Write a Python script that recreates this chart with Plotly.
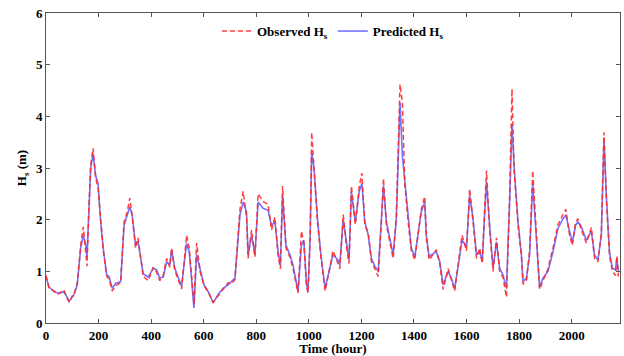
import plotly.graph_objects as go

hours = [0, 11, 30, 45, 56, 68, 80, 88, 100, 106, 119, 132, 142, 151, 156, 163, 170, 179, 189, 198,
         208, 218, 231, 240, 252, 265, 284, 297, 309, 319, 328, 341, 350, 360, 370, 389, 408, 421, 433, 446,
         459, 471, 478, 490, 503, 516, 525, 535, 545, 554, 563, 573, 586, 601, 617, 636, 655, 674, 693, 706,
         719, 725, 738, 750, 763, 769, 782, 795, 807, 826, 845, 858, 871, 883, 892, 900, 913, 928, 940, 959,
         972, 981, 991, 997, 1005, 1011, 1020, 1033, 1046, 1062, 1084, 1092, 1111, 1118, 1131, 1143, 1153, 1162, 1177, 1192,
         1202, 1213, 1226, 1238, 1251, 1264, 1276, 1284, 1295, 1308, 1321, 1333, 1341, 1347, 1356, 1365, 1378, 1390, 1403, 1416,
         1428, 1441, 1447, 1458, 1466, 1485, 1498, 1511, 1530, 1542, 1555, 1571, 1583, 1600, 1612, 1625, 1638, 1650, 1660, 1668,
         1676, 1688, 1701, 1714, 1726, 1739, 1752, 1764, 1773, 1781, 1796, 1809, 1815, 1828, 1840, 1852, 1866, 1878, 1891, 1910,
         1929, 1948, 1967, 1978, 1992, 2003, 2015, 2024, 2037, 2056, 2075, 2087, 2100, 2113, 2123, 2132, 2144, 2155, 2167, 2172,
         2178]

predicted = [0.90, 0.70, 0.61, 0.58, 0.58, 0.61, 0.50, 0.42, 0.50, 0.55, 0.74, 1.45, 1.70, 1.51, 1.28, 2.09, 2.99, 3.28, 2.85, 2.70,
             1.96, 1.44, 0.93, 0.90, 0.67, 0.77, 0.80, 1.89, 2.09, 2.25, 2.09, 1.50, 1.58, 1.30, 0.95, 0.89, 1.06, 1.03, 0.87, 0.89,
             1.19, 1.12, 1.41, 1.06, 0.87, 0.71, 1.12, 1.54, 1.38, 0.87, 0.29, 1.32, 1.06, 0.74, 0.61, 0.39, 0.55, 0.67, 0.74, 0.80,
             0.87, 1.25, 2.09, 2.34, 2.15, 1.32, 1.70, 1.32, 2.34, 2.22, 2.18, 1.89, 1.96, 1.38, 1.12, 2.47, 1.51, 1.32, 1.12, 0.61,
             1.51, 1.60, 0.77, 0.61, 1.60, 3.30, 2.99, 2.02, 1.32, 0.67, 1.12, 1.32, 1.22, 1.12, 2.00, 1.57, 1.22, 2.54, 1.96, 2.55,
             2.70, 1.96, 1.70, 1.25, 1.10, 1.00, 1.89, 2.66, 1.96, 1.64, 1.32, 2.00, 3.20, 4.27, 3.24, 2.79, 2.02, 1.45, 1.28, 1.70,
             2.15, 2.34, 1.70, 1.28, 1.32, 1.38, 1.19, 0.74, 1.00, 0.87, 0.67, 1.19, 1.61, 1.48, 2.47, 2.02, 1.32, 1.38, 1.20, 2.00,
             2.73, 1.89, 1.06, 1.57, 1.06, 0.93, 0.67, 2.34, 3.85, 3.05, 1.96, 1.32, 0.80, 0.87, 1.32, 2.70, 1.70, 0.70, 0.87, 1.00,
             1.38, 1.83, 2.02, 2.09, 1.77, 1.57, 1.89, 1.96, 1.86, 1.60, 1.78, 1.32, 1.22, 1.70, 3.56, 2.47, 1.38, 1.06, 1.03, 1.25,
             1.00]

observed = [0.92, 0.68, 0.62, 0.55, 0.60, 0.64, 0.48, 0.40, 0.52, 0.53, 0.78, 1.50, 1.86, 1.45, 1.10, 2.20, 3.05, 3.38, 2.80, 2.62,
            2.00, 1.40, 0.90, 0.85, 0.62, 0.72, 0.78, 1.95, 2.15, 2.42, 2.05, 1.45, 1.65, 1.25, 0.90, 0.82, 1.08, 0.98, 0.82, 0.92,
            1.25, 1.08, 1.45, 1.02, 0.82, 0.66, 1.15, 1.70, 1.45, 0.80, 0.35, 1.55, 1.00, 0.72, 0.60, 0.40, 0.52, 0.66, 0.78, 0.76,
            0.84, 1.30, 2.20, 2.55, 2.05, 1.25, 1.80, 1.28, 2.50, 2.35, 2.30, 1.80, 2.05, 1.30, 1.05, 2.65, 1.45, 1.28, 1.05, 0.58,
            1.78, 1.55, 0.72, 0.58, 1.70, 3.69, 2.90, 1.95, 1.28, 0.62, 1.18, 1.40, 1.15, 1.05, 2.10, 1.50, 1.15, 2.65, 1.90, 2.65,
            2.90, 1.90, 1.75, 1.20, 1.05, 0.90, 1.95, 2.80, 1.90, 1.60, 1.25, 2.10, 3.40, 4.62, 4.27, 2.70, 1.95, 1.40, 1.22, 1.75,
            2.20, 2.45, 1.65, 1.22, 1.28, 1.42, 1.15, 0.65, 1.05, 0.82, 0.62, 1.25, 1.70, 1.40, 2.60, 1.95, 1.25, 1.45, 1.15, 2.10,
            2.95, 1.80, 1.00, 1.65, 1.00, 0.88, 0.50, 2.45, 4.53, 2.95, 1.90, 1.28, 0.75, 0.82, 1.40, 2.95, 1.65, 0.65, 0.82, 1.05,
            1.45, 1.90, 2.10, 2.20, 1.70, 1.50, 1.95, 2.02, 1.80, 1.55, 1.85, 1.25, 1.18, 1.75, 3.69, 2.40, 1.30, 1.00, 0.92, 1.30,
            0.90]

x_ticks = [0, 200, 400, 600, 800, 1000, 1200, 1400, 1600, 1800, 2000]
y_ticks = [0, 1, 2, 3, 4, 5, 6]

font_family = "Liberation Serif"

fig = go.Figure()
fig.add_trace(go.Scatter(
    x=hours, y=predicted, mode="lines", name="<b>Predicted H<sub>s</sub></b>",
    line=dict(color="rgba(90,90,255,0.85)", width=1.6),
))
fig.add_trace(go.Scatter(
    x=hours, y=observed, mode="lines", name="<b>Observed H<sub>s</sub></b>",
    line=dict(color="rgba(255,40,40,0.9)", width=1.5, dash="5px,3px"),
))

axis_common = dict(
    showgrid=False, zeroline=False, showline=True, linecolor="#555", linewidth=1,
    mirror="ticks", ticks="inside", ticklen=4, tickcolor="#555",
    tickfont=dict(family=font_family, size=13, color="black", weight="bold"),
)

fig.update_xaxes(range=[0, 2184], tickvals=x_ticks,
                 title=dict(text="<b>Time (hour)</b>", font=dict(family=font_family, size=13, color="black"), standoff=1),
                 **axis_common)
fig.update_yaxes(range=[0, 6], tickvals=y_ticks,
                 title=dict(text="<b>H<sub>s</sub> (m)</b>", font=dict(family=font_family, size=13, color="black"), standoff=6),
                 **axis_common)

fig.update_layout(
    width=624, height=356,
    margin=dict(l=46, r=3, t=13, b=31),
    plot_bgcolor="white", paper_bgcolor="white",
    showlegend=True,
    legend=dict(orientation="h", x=0.5, xanchor="center", y=0.99, yanchor="top",
                traceorder="reversed",
                font=dict(family=font_family, size=13, color="black"),
                bgcolor="rgba(0,0,0,0)", itemwidth=30),
)

fig.write_html("out.html")
